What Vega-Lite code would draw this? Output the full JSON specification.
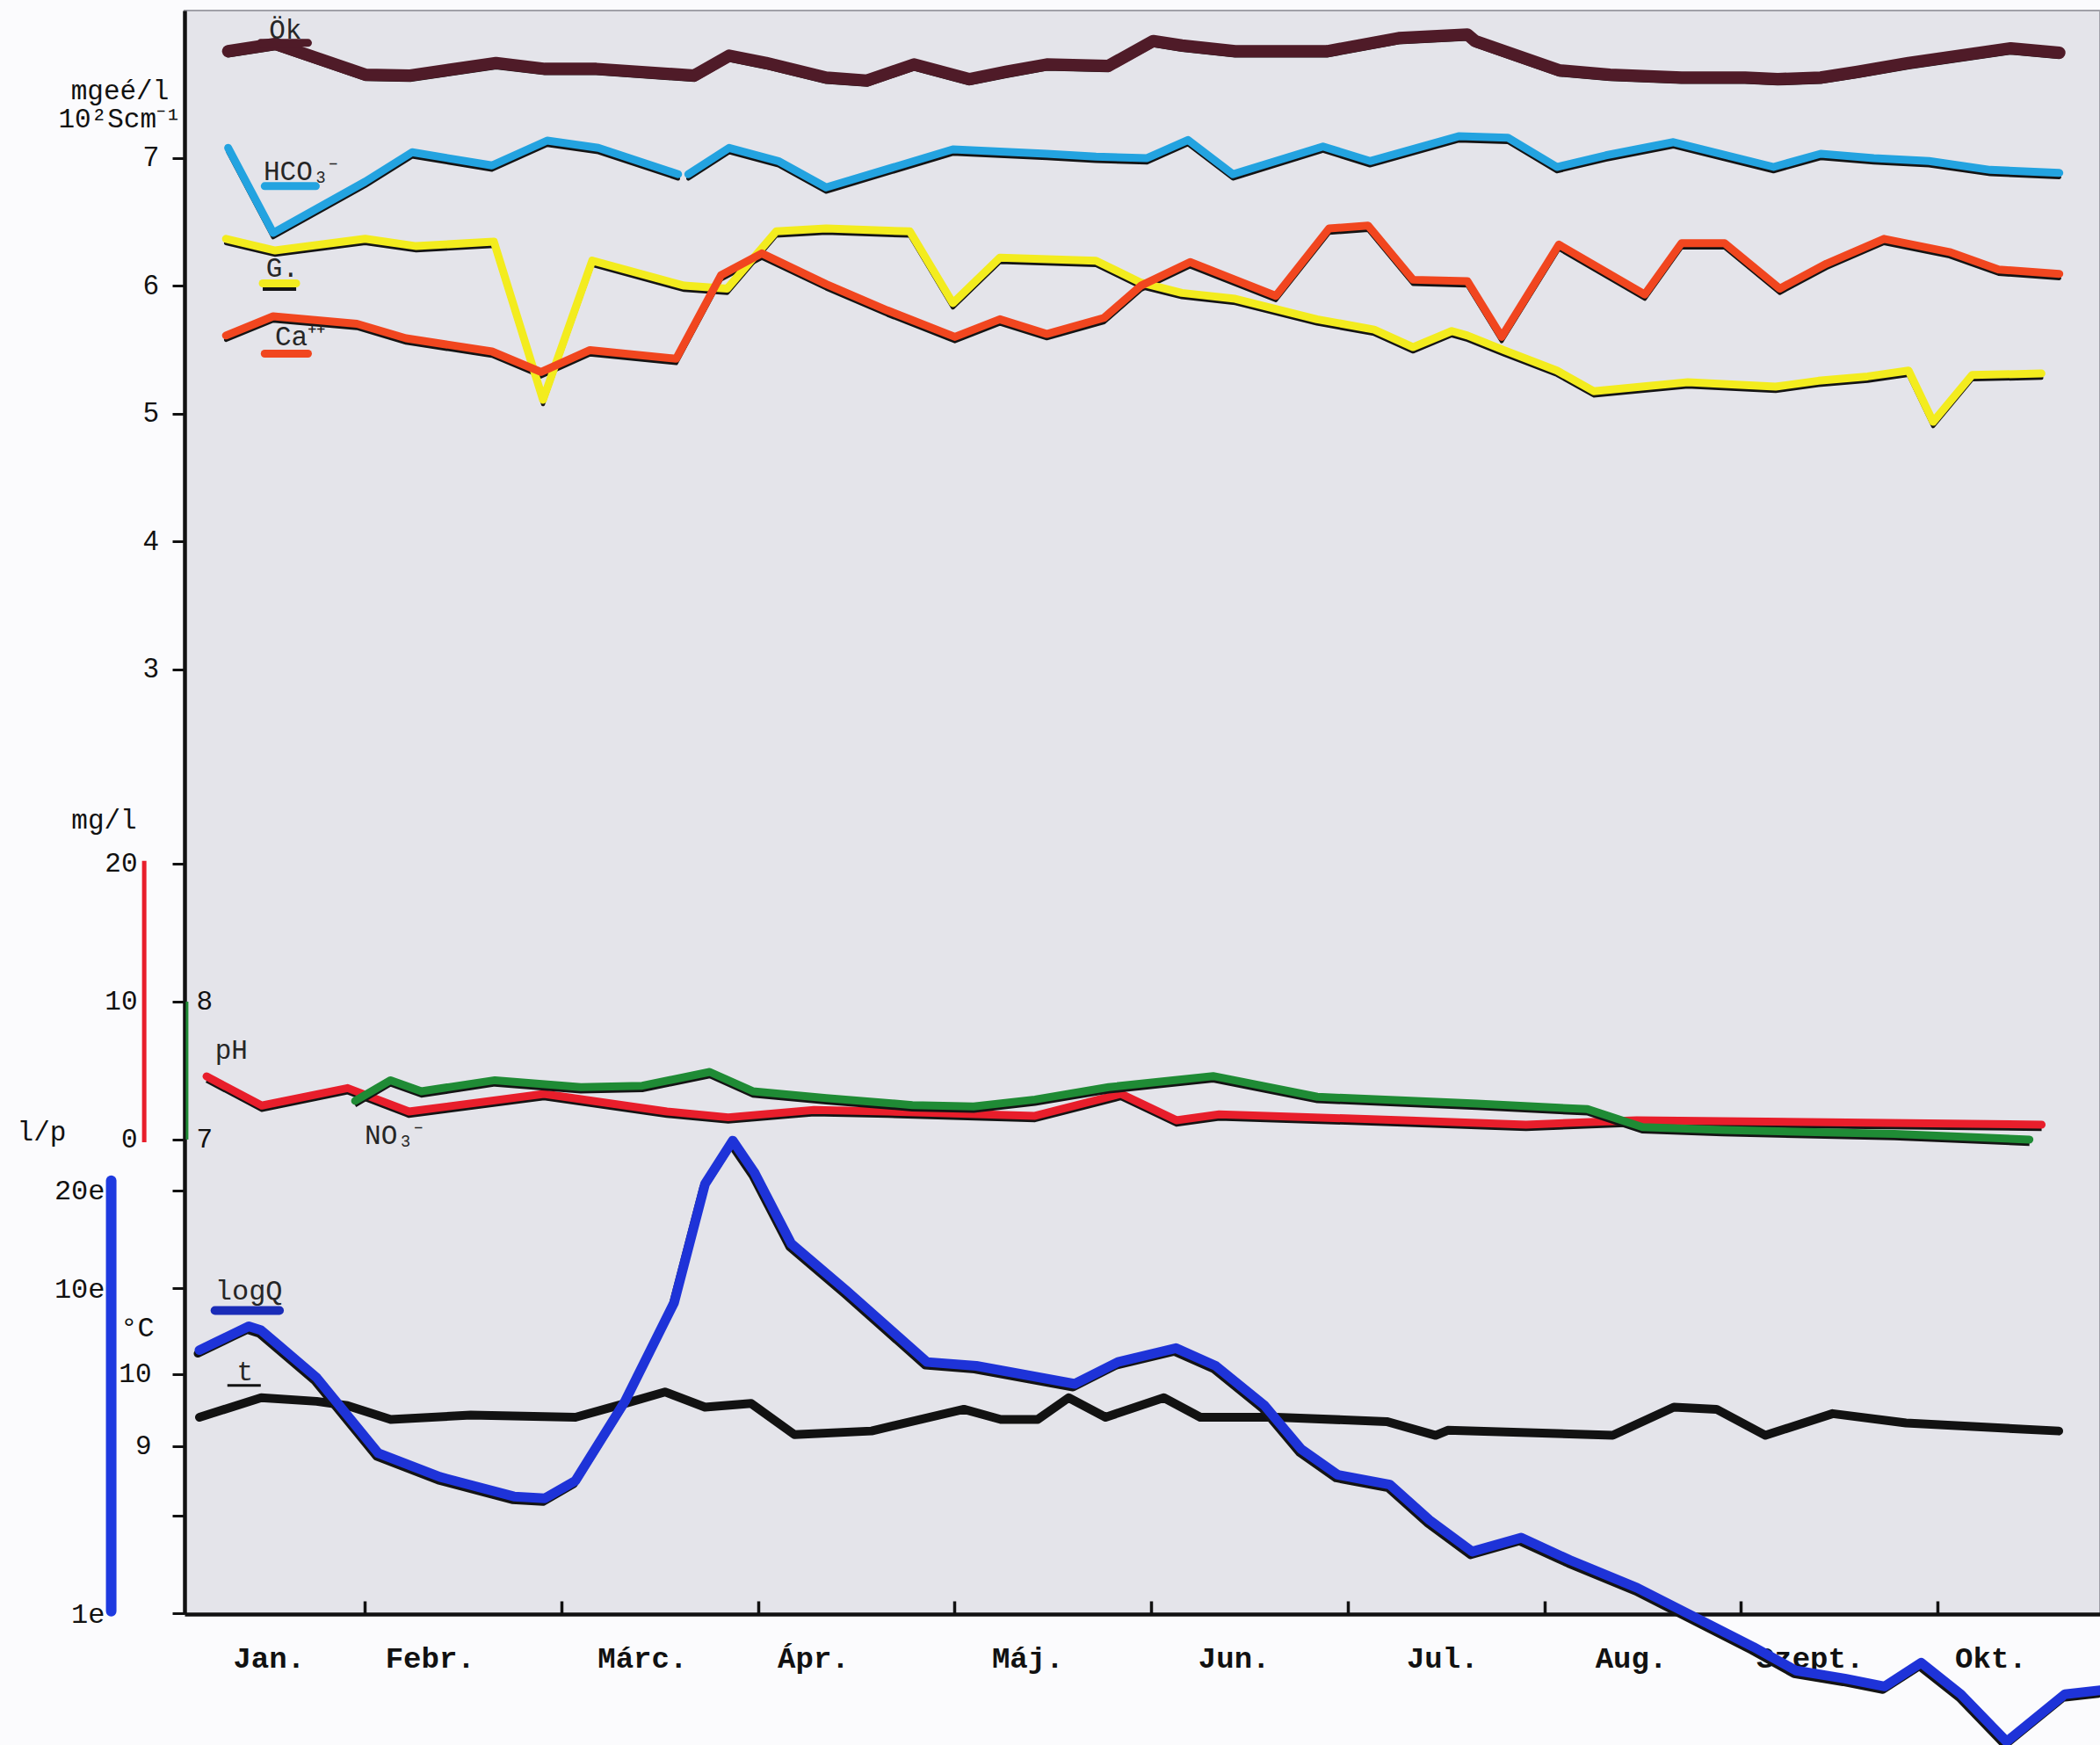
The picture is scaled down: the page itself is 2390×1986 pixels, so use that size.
{
  "$schema": "https://vega.github.io/schema/vega-lite/v6.json",
  "width": 2180,
  "height": 1825,
  "autosize": {"type": "none"},
  "padding": {"left": 210, "top": 12, "right": 0, "bottom": 149},
  "background": "#fbfbfd",
  "config": {
    "view": {"stroke": "#a0a0a8", "strokeWidth": 2, "fill": "#e4e4ea"},
    "axis": {"labelFont": "Liberation Mono", "titleFont": "Liberation Mono", "labelColor": "#111111", "titleColor": "#111111", "domainColor": "#111111", "tickColor": "#111111", "grid": false, "labelOverlap": false, "labelBound": false, "labelFlush": false, "titleFontWeight": "normal"}
  },
  "encoding": {
    "x": {
      "field": "m", "type": "quantitative",
      "scale": {"domain": [0.082, 9.827], "nice": false, "zero": false},
      "axis": {
        "orient": "bottom", "title": null,
        "values": [1, 2, 3, 4, 5, 6, 7, 8, 9, 0.51, 1.33, 2.41, 3.28, 4.37, 5.42, 6.48, 7.44, 8.35, 9.27],
        "labelExpr": "datum.value % 1 === 0 ? '' : datum.value < 1 ? 'Jan.' : datum.value < 2 ? 'Febr.' : datum.value < 3 ? 'Márc.' : datum.value < 4 ? 'Ápr.' : datum.value < 5 ? 'Máj.' : datum.value < 6 ? 'Jun.' : datum.value < 7 ? 'Jul.' : datum.value < 8 ? 'Aug.' : datum.value < 9 ? 'Szept.' : 'Okt.'",
        "tickSize": -15, "tickWidth": 3.5,
        "tickOpacity": {"condition": {"test": "datum.value % 1 !== 0", "value": 0}, "value": 1},
        "labelPadding": 48, "labelFont": "Liberation Mono", "labelFontSize": 34, "labelFontWeight": "bold",
        "labelAlign": "center", "labelBaseline": "top",
        "domainWidth": 4.5
      }
    }
  },
  "layer": [
    {
      "data": {"values": [
        {"s":"Ök","m":0.304,"v":7.835},{"s":"Ök","m":0.543,"v":7.892},{"s":"Ök","m":1.001,"v":7.652},{"s":"Ök","m":1.23,"v":7.645},{"s":"Ök","m":1.667,"v":7.743},{"s":"Ök","m":1.916,"v":7.697},{"s":"Ök","m":2.177,"v":7.697},{"s":"Ök","m":2.676,"v":7.645},{"s":"Ök","m":2.853,"v":7.8},{"s":"Ök","m":3.04,"v":7.743},{"s":"Ök","m":3.346,"v":7.629},{"s":"Ök","m":3.554,"v":7.606},{"s":"Ök","m":3.793,"v":7.732},{"s":"Ök","m":4.074,"v":7.617},{"s":"Ök","m":4.261,"v":7.674},{"s":"Ök","m":4.469,"v":7.732},{"s":"Ök","m":4.781,"v":7.72},{"s":"Ök","m":5.01,"v":7.915},{"s":"Ök","m":5.156,"v":7.88},{"s":"Ök","m":5.427,"v":7.835},{"s":"Ök","m":5.894,"v":7.835},{"s":"Ök","m":6.259,"v":7.938},{"s":"Ök","m":6.609,"v":7.966},{"s":"Ök","m":6.647,"v":7.915},{"s":"Ök","m":7.074,"v":7.686},{"s":"Ök","m":7.334,"v":7.652},{"s":"Ök","m":7.698,"v":7.629},{"s":"Ök","m":8.021,"v":7.629},{"s":"Ök","m":8.187,"v":7.617},{"s":"Ök","m":8.406,"v":7.629},{"s":"Ök","m":8.593,"v":7.674},{"s":"Ök","m":8.853,"v":7.743},{"s":"Ök","m":9.373,"v":7.858},{"s":"Ök","m":9.62,"v":7.823},
        {"s":"HCO3a","m":0.304,"v":7.079},{"s":"HCO3a","m":0.533,"v":6.414},{"s":"HCO3a","m":1.001,"v":6.815},{"s":"HCO3a","m":1.24,"v":7.045},{"s":"HCO3a","m":1.646,"v":6.942},{"s":"HCO3a","m":1.927,"v":7.136},{"s":"HCO3a","m":2.187,"v":7.079},{"s":"HCO3a","m":2.593,"v":6.873},
        {"s":"HCO3b","m":2.645,"v":6.873},{"s":"HCO3b","m":2.853,"v":7.079},{"s":"HCO3b","m":3.103,"v":6.976},{"s":"HCO3b","m":3.346,"v":6.77},{"s":"HCO3b","m":3.991,"v":7.067},{"s":"HCO3b","m":4.469,"v":7.033},{"s":"HCO3b","m":4.719,"v":7.01},{"s":"HCO3b","m":4.979,"v":6.999},{"s":"HCO3b","m":5.187,"v":7.141},{"s":"HCO3b","m":5.416,"v":6.873},{"s":"HCO3b","m":5.874,"v":7.09},{"s":"HCO3b","m":6.113,"v":6.976},{"s":"HCO3b","m":6.564,"v":7.17},{"s":"HCO3b","m":6.814,"v":7.159},{"s":"HCO3b","m":7.064,"v":6.93},{"s":"HCO3b","m":7.313,"v":7.021},{"s":"HCO3b","m":7.657,"v":7.124},{"s":"HCO3b","m":8.166,"v":6.93},{"s":"HCO3b","m":8.406,"v":7.033},{"s":"HCO3b","m":8.676,"v":6.999},{"s":"HCO3b","m":8.957,"v":6.976},{"s":"HCO3b","m":9.269,"v":6.907},{"s":"HCO3b","m":9.62,"v":6.884},
        {"s":"G","m":0.293,"v":6.368},{"s":"G","m":0.543,"v":6.277},{"s":"G","m":1.001,"v":6.368},{"s":"G","m":1.261,"v":6.311},{"s":"G","m":1.656,"v":6.346},{"s":"G","m":1.906,"v":5.109},{"s":"G","m":2.156,"v":6.197},{"s":"G","m":2.624,"v":6.002},{"s":"G","m":2.843,"v":5.979},{"s":"G","m":3.092,"v":6.426},{"s":"G","m":3.346,"v":6.449},{"s":"G","m":3.772,"v":6.426},{"s":"G","m":3.991,"v":5.865},{"s":"G","m":4.23,"v":6.22},{"s":"G","m":4.719,"v":6.197},{"s":"G","m":4.948,"v":6.025},{"s":"G","m":5.156,"v":5.945},{"s":"G","m":5.427,"v":5.899},{"s":"G","m":5.843,"v":5.739},{"s":"G","m":6.134,"v":5.658},{"s":"G","m":6.332,"v":5.521},{"s":"G","m":6.529,"v":5.647},{"s":"G","m":6.609,"v":5.612},{"s":"G","m":6.793,"v":5.498},{"s":"G","m":7.064,"v":5.338},{"s":"G","m":7.251,"v":5.177},{"s":"G","m":7.73,"v":5.246},{"s":"G","m":8.177,"v":5.212},{"s":"G","m":8.395,"v":5.258},{"s":"G","m":8.645,"v":5.292},{"s":"G","m":8.853,"v":5.338},{"s":"G","m":8.978,"v":4.937},{"s":"G","m":9.176,"v":5.303},{"s":"G","m":9.529,"v":5.315},
        {"s":"Ca","m":0.293,"v":5.612},{"s":"Ca","m":0.533,"v":5.762},{"s":"Ca","m":0.959,"v":5.704},{"s":"Ca","m":1.209,"v":5.59},{"s":"Ca","m":1.646,"v":5.487},{"s":"Ca","m":1.896,"v":5.326},{"s":"Ca","m":2.145,"v":5.498},{"s":"Ca","m":2.583,"v":5.43},{"s":"Ca","m":2.811,"v":6.083},{"s":"Ca","m":3.019,"v":6.254},{"s":"Ca","m":3.346,"v":6.014},{"s":"Ca","m":3.658,"v":5.808},{"s":"Ca","m":4.001,"v":5.601},{"s":"Ca","m":4.23,"v":5.739},{"s":"Ca","m":4.469,"v":5.624},{"s":"Ca","m":4.76,"v":5.75},{"s":"Ca","m":4.948,"v":6.002},{"s":"Ca","m":5.198,"v":6.186},{"s":"Ca","m":5.634,"v":5.922},{"s":"Ca","m":5.905,"v":6.449},{"s":"Ca","m":6.103,"v":6.472},{"s":"Ca","m":6.332,"v":6.048},{"s":"Ca","m":6.609,"v":6.036},{"s":"Ca","m":6.783,"v":5.601},{"s":"Ca","m":7.074,"v":6.323},{"s":"Ca","m":7.511,"v":5.933},{"s":"Ca","m":7.698,"v":6.334},{"s":"Ca","m":7.917,"v":6.334},{"s":"Ca","m":8.198,"v":5.979},{"s":"Ca","m":8.436,"v":6.174},{"s":"Ca","m":8.728,"v":6.368},{"s":"Ca","m":9.061,"v":6.265},{"s":"Ca","m":9.311,"v":6.128},{"s":"Ca","m":9.62,"v":6.094}
      ]},
      "encoding": {
        "y": {"field": "v", "type": "quantitative",
          "scale": {"domain": [-4.386, 8.153], "nice": false, "zero": false},
          "axis": {"orient": "left", "values": [3, 4, 5, 6, 7], "title": ["mgeé/l", "10²Scm⁻¹"], "titleAngle": 0, "titleX": -74, "titleY": 76, "titleAlign": "center", "titleBaseline": "top", "titleFontSize": 31, "titleLineHeight": 32, "labelFont": "Liberation Sans", "labelFontSize": 31, "tickSize": 14, "tickWidth": 3, "labelPadding": 16, "domainWidth": 4.5, "domain": true}
        }
      },
      "layer": [
        {"mark": {"type": "line", "color": "#141414", "strokeWidth": 4.5, "yOffset": 5, "strokeJoin": "round", "strokeCap": "round"}, "encoding": {"detail": {"field": "s"}}},
        {"mark": {"type": "line", "strokeJoin": "round", "strokeCap": "round"},
         "encoding": {
           "color": {"field": "s", "type": "nominal", "legend": null, "scale": {"domain": ["Ök","HCO3a","HCO3b","G","Ca","pH","NO3","logQ"], "range": ["#4f1b28","#23a3e0","#23a3e0","#f3ec1e","#f1461f","#1f8b35","#e81e2b","#1e33d8"]}},
           "strokeWidth": {"condition": {"test": "datum.s === 'Ök'", "value": 14}, "value": 9}
         }},
        {"data": {"values": [{"s":"Ök","m":0.47,"m2":0.71,"v":7.9},{"s":"HCO3a","m":0.49,"m2":0.75,"v":6.78},{"s":"G","m":0.48,"m2":0.65,"v":6.02},{"s":"Ca","m":0.49,"m2":0.71,"v":5.47}]},
         "mark": {"type": "rule", "strokeWidth": 9, "strokeCap": "round"},
         "encoding": {"x2": {"field": "m2"}, "color": {"field": "s", "type": "nominal", "legend": null, "scale": {"domain": ["Ök","HCO3a","HCO3b","G","Ca","pH","NO3","logQ"], "range": ["#4f1b28","#23a3e0","#23a3e0","#f3ec1e","#f1461f","#1f8b35","#e81e2b","#1e33d8"]}}}},
        {"data": {"values": [{"m":0.48,"m2":0.65,"v":5.975}]},
         "mark": {"type": "rule", "strokeWidth": 4, "color": "#141414"},
         "encoding": {"x2": {"field": "m2"}}},
        {"data": {"values": [{"t":"Ök","m":0.595,"v":7.995},{"t":"HCO₃⁻","m":0.673,"v":6.89},{"t":"G.","m":0.58,"v":6.13},{"t":"Ca⁺⁺","m":0.67,"v":5.6}]},
         "mark": {"type": "text", "font": "Liberation Mono", "fontSize": 31, "color": "#262626", "align": "center", "baseline": "middle"},
         "encoding": {"text": {"field": "t"}}}
      ]
    },
    {
      "data": {"values": [
        {"s":"NO3","m":0.194,"v":4.58},{"s":"NO3","m":0.475,"v":2.46},{"s":"NO3","m":0.912,"v":3.73},{"s":"NO3","m":1.224,"v":2.03},{"s":"NO3","m":1.911,"v":3.31},{"s":"NO3","m":2.536,"v":2.03},{"s":"NO3","m":2.848,"v":1.61},{"s":"NO3","m":3.285,"v":2.14},{"s":"NO3","m":3.66,"v":2.03},{"s":"NO3","m":4.409,"v":1.72},{"s":"NO3","m":4.846,"v":3.31},{"s":"NO3","m":5.128,"v":1.4},{"s":"NO3","m":5.346,"v":1.82},{"s":"NO3","m":6.283,"v":1.4},{"s":"NO3","m":6.907,"v":1.08},{"s":"NO3","m":7.469,"v":1.4},{"s":"NO3","m":9.53,"v":1.08}
      ]},
      "encoding": {
        "y": {"field": "v", "type": "quantitative",
          "scale": {"domain": [-34.41, 81.86], "nice": false, "zero": false},
          "axis": {"orient": "left", "values": [0, 10, 20], "title": "mg/l", "titleAngle": 0, "titleX": -92, "titleY": 921, "titleAlign": "center", "titleBaseline": "middle", "titleFontSize": 31, "labelFontSize": 31, "tickSize": 14, "tickWidth": 3, "labelPadding": 40, "domain": false}
        }
      },
      "layer": [
        {"mark": {"type": "line", "color": "#141414", "strokeWidth": 4.5, "yOffset": 5, "strokeJoin": "round"}},
        {"mark": {"type": "line", "color": "#e81e2b", "strokeWidth": 9, "strokeJoin": "round", "strokeCap": "round"}},
        {"data": {"values": [{"m":-0.123,"v":-0.2,"v2":20.2}]},
         "mark": {"type": "rule", "color": "#e81e2b", "strokeWidth": 5},
         "encoding": {"y2": {"field": "v2"}}},
        {"data": {"values": [{"t":"NO₃⁻","m":1.146,"v":0.25}]},
         "mark": {"type": "text", "font": "Liberation Mono", "fontSize": 31, "color": "#262626", "align": "center", "baseline": "middle"},
         "encoding": {"text": {"field": "t"}}}
      ]
    },
    {
      "data": {"values": [
        {"s":"pH","m":0.95,"v":7.28},{"s":"pH","m":1.13,"v":7.43},{"s":"pH","m":1.287,"v":7.35},{"s":"pH","m":1.661,"v":7.43},{"s":"pH","m":2.098,"v":7.38},{"s":"pH","m":2.411,"v":7.39},{"s":"pH","m":2.754,"v":7.49},{"s":"pH","m":2.973,"v":7.35},{"s":"pH","m":3.347,"v":7.3},{"s":"pH","m":3.785,"v":7.25},{"s":"pH","m":4.097,"v":7.24},{"s":"pH","m":4.409,"v":7.29},{"s":"pH","m":4.784,"v":7.38},{"s":"pH","m":5.315,"v":7.46},{"s":"pH","m":5.845,"v":7.31},{"s":"pH","m":6.657,"v":7.26},{"s":"pH","m":7.22,"v":7.22},{"s":"pH","m":7.5,"v":7.09},{"s":"pH","m":7.906,"v":7.07},{"s":"pH","m":8.781,"v":7.04},{"s":"pH","m":9.468,"v":7.0}
      ]},
      "encoding": {
        "y": {"field": "v", "type": "quantitative",
          "scale": {"domain": [3.559, 15.186], "nice": false, "zero": false},
          "axis": {"orient": "left", "values": [7, 8], "title": null, "ticks": false, "labelAlign": "left", "labelPadding": -13, "labelFontSize": 31, "domain": false}
        }
      },
      "layer": [
        {"mark": {"type": "line", "color": "#141414", "strokeWidth": 4.5, "yOffset": 5, "strokeJoin": "round"}},
        {"mark": {"type": "line", "color": "#1f8b35", "strokeWidth": 9, "strokeJoin": "round", "strokeCap": "round"}},
        {"data": {"values": [{"m":0.095,"v":7.0,"v2":8.0}]},
         "mark": {"type": "rule", "color": "#1f8b35", "strokeWidth": 3},
         "encoding": {"y2": {"field": "v2"}}},
        {"data": {"values": [{"t":"pH","m":0.32,"v":7.64}]},
         "mark": {"type": "text", "font": "Liberation Mono", "fontSize": 31, "color": "#262626", "align": "center", "baseline": "middle"},
         "encoding": {"text": {"field": "t"}}}
      ]
    },
    {
      "data": {"values": [
        {"s":"t","m":0.158,"v":9.4},{"s":"t","m":0.472,"v":9.67},{"s":"t","m":0.754,"v":9.62},{"s":"t","m":0.911,"v":9.56},{"s":"t","m":1.131,"v":9.37},{"s":"t","m":1.538,"v":9.43},{"s":"t","m":2.071,"v":9.4},{"s":"t","m":2.322,"v":9.59},{"s":"t","m":2.526,"v":9.75},{"s":"t","m":2.73,"v":9.54},{"s":"t","m":2.965,"v":9.59},{"s":"t","m":3.185,"v":9.16},{"s":"t","m":3.577,"v":9.21},{"s":"t","m":4.047,"v":9.51},{"s":"t","m":4.235,"v":9.37},{"s":"t","m":4.423,"v":9.37},{"s":"t","m":4.58,"v":9.67},{"s":"t","m":4.768,"v":9.4},{"s":"t","m":5.064,"v":9.67},{"s":"t","m":5.25,"v":9.4},{"s":"t","m":5.638,"v":9.4},{"s":"t","m":6.198,"v":9.34},{"s":"t","m":6.447,"v":9.15},{"s":"t","m":6.509,"v":9.22},{"s":"t","m":7.348,"v":9.15},{"s":"t","m":7.659,"v":9.54},{"s":"t","m":7.876,"v":9.51},{"s":"t","m":8.125,"v":9.15},{"s":"t","m":8.467,"v":9.45},{"s":"t","m":8.84,"v":9.32},{"s":"t","m":9.617,"v":9.21}
      ]},
      "encoding": {
        "y": {"field": "v", "type": "quantitative",
          "scale": {"domain": [6.678, 28.854], "nice": false, "zero": false},
          "axis": {"orient": "left", "values": [9, 10], "title": "°C", "titleAngle": 0, "titleX": -54, "titleY": 1498, "titleAlign": "center", "titleBaseline": "middle", "titleFontSize": 32, "labelFontSize": 31, "tickSize": 14, "tickWidth": 3, "labelPadding": 24, "domain": false}
        }
      },
      "layer": [
        {"mark": {"type": "line", "color": "#121212", "strokeWidth": 10, "strokeJoin": "round", "strokeCap": "round"}},
        {"data": {"values": [{"m":0.3,"m2":0.47,"v":9.84}]},
         "mark": {"type": "rule", "color": "#121212", "strokeWidth": 3},
         "encoding": {"x2": {"field": "m2"}}},
        {"data": {"values": [{"t":"t","m":0.39,"v":10.02}]},
         "mark": {"type": "text", "font": "Liberation Mono", "fontSize": 31, "color": "#262626", "align": "center", "baseline": "middle"},
         "encoding": {"text": {"field": "t"}}}
      ]
    },
    {
      "data": {"values": [
        {"s":"logQ","m":0.158,"v":6.45},{"s":"logQ","m":0.409,"v":7.63},{"s":"logQ","m":0.472,"v":7.42},{"s":"logQ","m":0.754,"v":5.31},{"s":"logQ","m":1.068,"v":3.11},{"s":"logQ","m":1.381,"v":2.63},{"s":"logQ","m":1.758,"v":2.29},{"s":"logQ","m":1.915,"v":2.26},{"s":"logQ","m":2.071,"v":2.56},{"s":"logQ","m":2.322,"v":4.48},{"s":"logQ","m":2.573,"v":9.03},{"s":"logQ","m":2.73,"v":20.9},{"s":"logQ","m":2.871,"v":28.4},{"s":"logQ","m":2.981,"v":22.7},{"s":"logQ","m":3.169,"v":13.7},{"s":"logQ","m":3.451,"v":9.81},{"s":"logQ","m":3.859,"v":5.93},{"s":"logQ","m":4.11,"v":5.77},{"s":"logQ","m":4.611,"v":5.08},{"s":"logQ","m":4.831,"v":5.93},{"s":"logQ","m":5.126,"v":6.54},{"s":"logQ","m":5.328,"v":5.77},{"s":"logQ","m":5.576,"v":4.36},{"s":"logQ","m":5.763,"v":3.2},{"s":"logQ","m":5.949,"v":2.67},{"s":"logQ","m":6.214,"v":2.49},{"s":"logQ","m":6.415,"v":1.94},{"s":"logQ","m":6.633,"v":1.55},{"s":"logQ","m":6.882,"v":1.71},{"s":"logQ","m":7.13,"v":1.46},{"s":"logQ","m":7.472,"v":1.2},{"s":"logQ","m":8.063,"v":0.79},{"s":"logQ","m":8.28,"v":0.668},{"s":"logQ","m":8.529,"v":0.631},{"s":"logQ","m":8.731,"v":0.597},{"s":"logQ","m":8.917,"v":0.706},{"s":"logQ","m":9.119,"v":0.565},{"s":"logQ","m":9.352,"v":0.404},{"s":"logQ","m":9.648,"v":0.565},{"s":"logQ","m":9.828,"v":0.581}
      ]},
      "encoding": {
        "y": {"field": "v", "type": "quantitative",
          "scale": {"type": "log", "domain": [0.9962, 84450], "nice": false, "zero": false},
          "axis": {"orient": "left", "values": [1, 2, 10, 20], "labelExpr": "datum.value === 2 ? '' : datum.value + 'e'", "title": "l/p", "titleAngle": 0, "titleX": -163, "titleY": 1276, "titleAlign": "center", "titleBaseline": "middle", "titleFontSize": 31, "labelFontSize": 32, "tickSize": 14, "tickWidth": 3, "labelPadding": 77, "domain": false}
        }
      },
      "layer": [
        {"mark": {"type": "line", "color": "#141414", "strokeWidth": 9, "yOffset": 4, "xOffset": -2, "strokeJoin": "round", "strokeCap": "round"}},
        {"mark": {"type": "line", "color": "#1e33d8", "strokeWidth": 11, "strokeJoin": "round", "strokeCap": "round"}},
        {"data": {"values": [{"m":-0.291,"v":1.017,"v2":21.4}]},
         "mark": {"type": "rule", "color": "#1e3ae0", "strokeWidth": 12, "strokeCap": "round"},
         "encoding": {"y2": {"field": "v2"}}},
        {"data": {"values": [{"m":0.237,"m2":0.565,"v":8.54}]},
         "mark": {"type": "rule", "color": "#1a2cb8", "strokeWidth": 10, "strokeCap": "round"},
         "encoding": {"x2": {"field": "m2"}}},
        {"data": {"values": [{"t":"logQ","m":0.409,"v":9.81}]},
         "mark": {"type": "text", "font": "Liberation Mono", "fontSize": 32, "color": "#262626", "align": "center", "baseline": "middle"},
         "encoding": {"text": {"field": "t"}}}
      ]
    }
  ],
  "resolve": {"scale": {"y": "independent"}, "axis": {"y": "independent"}}
}
